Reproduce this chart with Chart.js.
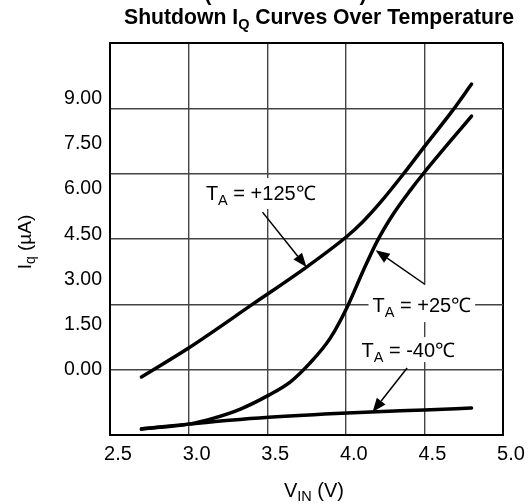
<!DOCTYPE html>
<html lang="en">
  <head>
    <meta charset="UTF-8" />
    <title>shutdown iq</title>
    <script src="https://cdn.jsdelivr.net/npm/chart.js@4/dist/chart.umd.min.js"></script>
    <style>
      body { margin: 0; background: #fff; }
      #chartContainer { position: relative; width: 531px; height: 504px; }
    </style>
  </head>
  <body>
    <div id="chartContainer"><canvas id="chart"></canvas></div>
    <script>
      // (V, uA)
      const vin125 = [2.70, 3.00, 3.41, 3.75, 4.01, 4.11, 4.22, 4.36, 4.50, 4.68, 4.80];
      const iq125 = [-0.23, 0.73, 2.19, 3.41, 4.44, 4.92, 5.55, 6.45, 7.40, 8.60, 9.47];

      const vin25 = [2.70, 3.00, 3.16, 3.33, 3.51, 3.65, 3.77, 3.90, 4.01, 4.11, 4.20, 4.30, 4.41, 4.50, 4.80];
      const iq25 = [-1.95, -1.79, -1.59, -1.29, -0.83, -0.38, 0.22, 1.05, 2.10, 3.28, 4.27, 5.15, 5.95, 6.55, 8.41];

      const vinM40 = [2.70, 3.00, 3.26, 3.51, 4.01, 4.50, 4.80];
      const iqM40 = [-1.95, -1.79, -1.66, -1.56, -1.42, -1.32, -1.26];

      const xTicks = [2.5, 3.0, 3.5, 4.0, 4.5, 5.0];
      const yTicks = [0, 1.5, 3, 4.5, 6, 7.5, 9];

      // label text, anchor, arrow start and tip (data units)
      const notes = [
        { sub: "A", text: " = +125℃", at: [3.11, 5.63], from: [3.47, 5.23], to: [3.75, 3.41], box: [22, 9] },
        { sub: "A", text: " = +25℃", at: [4.17, 1.92], from: [4.50, 2.85], to: [4.19, 3.97], box: [27, 10] },
        { sub: "A", text: " = -40℃", at: [4.10, 0.43], from: [4.39, 0.07], to: [4.17, -1.39], box: [20, 5] },
      ];

      const toPoints = (xs, ys) => xs.map((x, i) => ({ x, y: ys[i] }));
      const FONT = "'Liberation Sans', Arial, sans-serif";

      function measureParts(ctx, parts) {
        let total = 0;
        parts.forEach((p) => {
          ctx.font = `${p.bold ? "bold " : ""}${p.size}px ${FONT}`;
          p.w = ctx.measureText(p.t).width;
          total += p.w;
        });
        return total;
      }

      function drawParts(ctx, parts, x, y, align) {
        const total = measureParts(ctx, parts);
        let cx = align === "center" ? x - total / 2 : x;
        ctx.textAlign = "left";
        ctx.textBaseline = "alphabetic";
        parts.forEach((p) => {
          ctx.font = `${p.bold ? "bold " : ""}${p.size}px ${FONT}`;
          ctx.fillText(p.t, cx, y + (p.dy || 0));
          cx += p.w;
        });
      }

      function noteParts(n) {
        return [
          { t: "T", size: 20 },
          { t: n.sub, size: 14.5, dy: 5 },
          { t: n.text, size: 20 },
        ];
      }

      const textPlugin = {
        id: "texts",
        beforeDatasetsDraw(chart) {
          const { ctx, scales } = chart;
          ctx.save();
          ctx.fillStyle = "#fff";
          notes.forEach((n) => {
            const x = scales.x.getPixelForValue(n.at[0]);
            const y = scales.y.getPixelForValue(n.at[1]);
            const tw = measureParts(ctx, noteParts(n));
            ctx.fillRect(x - 4, y - n.box[0], tw + 8, n.box[0] + n.box[1]);
          });
          ctx.restore();
        },
        afterDatasetsDraw(chart) {
          const { ctx, scales } = chart;
          ctx.save();
          ctx.fillStyle = "#000";
          ctx.strokeStyle = "#000";
          notes.forEach((n) => {
            const x = scales.x.getPixelForValue(n.at[0]);
            const y = scales.y.getPixelForValue(n.at[1]);
            drawParts(ctx, noteParts(n), x, y, "left");

            const x1 = scales.x.getPixelForValue(n.from[0]);
            const y1 = scales.y.getPixelForValue(n.from[1]);
            const x2 = scales.x.getPixelForValue(n.to[0]);
            const y2 = scales.y.getPixelForValue(n.to[1]);
            const a = Math.atan2(y2 - y1, x2 - x1);
            const len = 14, half = 5.5;
            const bx = x2 - len * Math.cos(a);
            const by = y2 - len * Math.sin(a);
            ctx.lineWidth = 1.5;
            ctx.beginPath();
            ctx.moveTo(x1, y1);
            ctx.lineTo(bx, by);
            ctx.stroke();
            ctx.beginPath();
            ctx.moveTo(x2, y2);
            ctx.lineTo(bx + half * Math.sin(a), by - half * Math.cos(a));
            ctx.lineTo(bx - half * Math.sin(a), by + half * Math.cos(a));
            ctx.closePath();
            ctx.fill();
          });
          ctx.restore();
        },
        afterDraw(chart) {
          const { ctx } = chart;
          ctx.save();
          ctx.fillStyle = "#000";
          // cut-off line above the title
          ctx.font = `bold 21px ${FONT}`;
          ctx.textAlign = "center";
          ctx.fillText("(", 208, 1);
          ctx.fillText(")", 363, 1);

          drawParts(
            ctx,
            [
              { t: "Shutdown I", size: 21.2, bold: true },
              { t: "Q", size: 14.5, bold: true, dy: 5 },
              { t: " Curves Over Temperature", size: 21.2, bold: true },
            ],
            319,
            24,
            "center"
          );

          drawParts(
            ctx,
            [
              { t: "V", size: 20 },
              { t: "IN", size: 14.5, dy: 4 },
              { t: " (V)", size: 20 },
            ],
            314,
            497,
            "center"
          );

          ctx.translate(31, 242);
          ctx.rotate(-Math.PI / 2);
          drawParts(
            ctx,
            [
              { t: "I", size: 19 },
              { t: "q", size: 14, dy: 4 },
              { t: " (µA)", size: 19 },
            ],
            0,
            0,
            "center"
          );
          ctx.restore();
        },
      };

      const edgeColor = (lo, hi) => (c) =>
        c.tick && (c.tick.value === lo || c.tick.value === hi) ? "#000" : "#444";
      const edgeWidth = (lo, hi) => (c) =>
        c.tick && (c.tick.value === lo || c.tick.value === hi) ? 2 : 1.4;

      const lineStyle = {
        borderColor: "#000",
        borderWidth: 3.5,
        pointRadius: 0,
        fill: false,
        cubicInterpolationMode: "monotone",
        borderCapStyle: "round",
        borderJoinStyle: "round",
      };

      new Chart(document.getElementById("chart"), {
        type: "line",
        data: {
          datasets: [
            { label: "TA = +125℃", data: toPoints(vin125, iq125), ...lineStyle },
            { label: "TA = +25℃", data: toPoints(vin25, iq25), ...lineStyle },
            { label: "TA = -40℃", data: toPoints(vinM40, iqM40), ...lineStyle },
          ],
        },
        options: {
          responsive: true,
          maintainAspectRatio: false,
          animation: false,
          layout: { padding: { top: 43, right: 28, left: 0, bottom: 0 } },
          plugins: { legend: { display: false }, tooltip: { enabled: false } },
          scales: {
            x: {
              type: "linear",
              min: 2.5,
              max: 5,
              afterBuildTicks: (axis) => {
                axis.ticks = xTicks.map((v) => ({ value: v }));
              },
              ticks: {
                callback: (v) => v.toFixed(1),
                labelOffset: 8,
                padding: 7,
                color: "#000",
                maxRotation: 0,
                font: { family: FONT, size: 20 },
              },
              grid: { drawTicks: false, color: edgeColor(2.5, 5), lineWidth: edgeWidth(2.5, 5) },
              border: { color: "#000", width: 2 },
              afterFit: (axis) => {
                axis.height = 69;
              },
            },
            y: {
              type: "linear",
              position: "left",
              weight: 1,
              min: -2.15,
              max: 10.83,
              afterBuildTicks: (axis) => {
                axis.ticks = yTicks.map((v) => ({ value: v }));
              },
              ticks: {
                callback: (v) => v.toFixed(2),
                padding: 8,
                color: "#000",
                font: { family: FONT, size: 19.5 },
              },
              grid: { display: false, drawTicks: false },
              border: { display: false },
              afterFit: (axis) => {
                axis.width = 110;
              },
            },
            yGrid: {
              type: "linear",
              position: "left",
              weight: 0,
              min: 0,
              max: 6,
              ticks: { display: false, stepSize: 1 },
              grid: { drawTicks: false, color: edgeColor(0, 6), lineWidth: edgeWidth(0, 6) },
              border: { color: "#000", width: 2 },
              afterFit: (axis) => {
                axis.width = 0;
              },
            },
          },
        },
        plugins: [textPlugin],
      });
    </script>
  </body>
</html>
